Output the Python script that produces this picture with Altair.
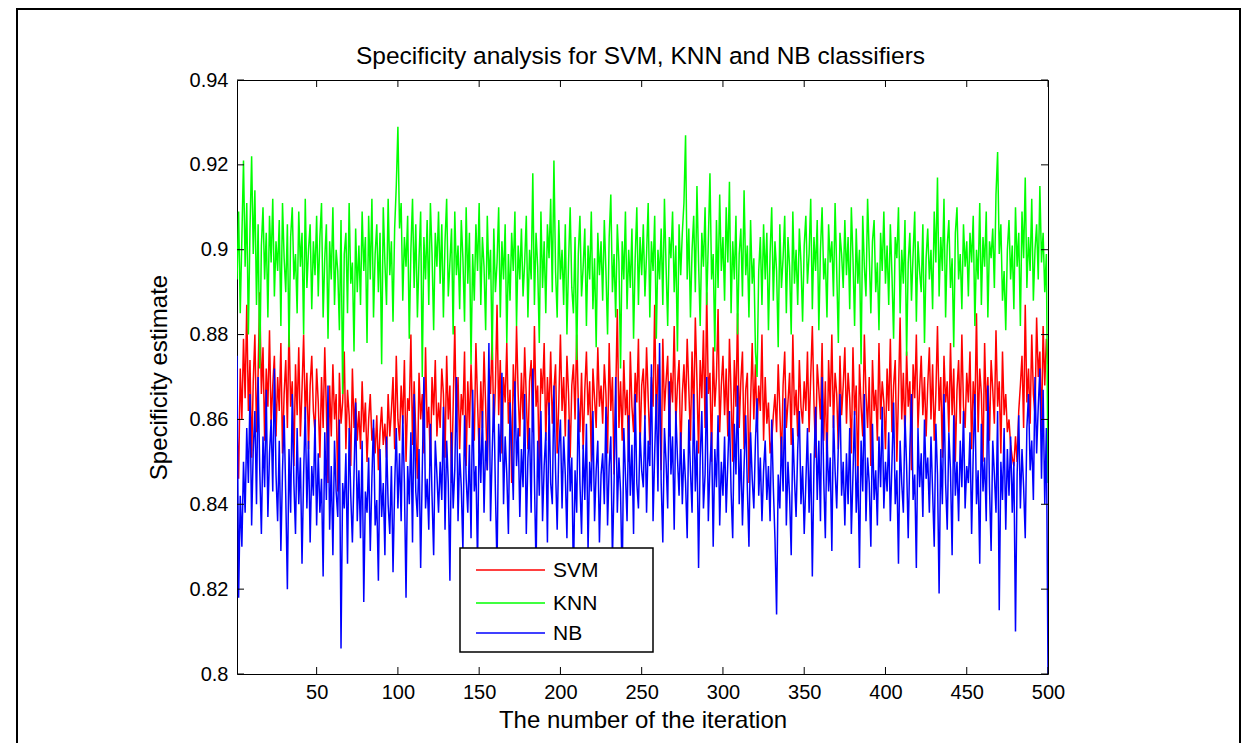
import altair as alt
import pandas as pd

# ---------------- data ----------------
ITER = list(range(1, 501))

SVM = [
    0.858, 0.846, 0.872, 0.860, 0.879, 0.865, 0.887, 0.862, 0.874, 0.851, 0.869, 0.880, 0.857, 0.871, 0.890, 0.866, 0.877, 0.855, 0.872, 0.863, 0.881, 0.859, 0.868, 0.875, 0.856,
    0.870, 0.862, 0.878, 0.852, 0.866, 0.874, 0.858, 0.882, 0.863, 0.869, 0.849, 0.873, 0.861, 0.877, 0.856, 0.867, 0.880, 0.860, 0.871, 0.853, 0.868, 0.875, 0.862, 0.857, 0.872,
    0.864, 0.851, 0.870, 0.858, 0.877, 0.862, 0.845, 0.868, 0.856, 0.873, 0.860, 0.866, 0.843, 0.871, 0.859, 0.864, 0.876, 0.853, 0.867, 0.861, 0.849, 0.872, 0.858, 0.865, 0.855,
    0.862, 0.853, 0.869, 0.857, 0.864, 0.850, 0.860, 0.866, 0.855, 0.858, 0.852, 0.861, 0.848, 0.857, 0.863, 0.854, 0.859, 0.851, 0.866, 0.856, 0.862, 0.870, 0.853, 0.875, 0.860,
    0.855, 0.868, 0.859, 0.874, 0.850, 0.865, 0.862, 0.880, 0.854, 0.869, 0.857, 0.846, 0.871, 0.860, 0.866, 0.852, 0.877, 0.858, 0.863, 0.849, 0.870, 0.861, 0.874, 0.856, 0.864,
    0.858, 0.872, 0.866, 0.851, 0.875, 0.860, 0.868, 0.845, 0.863, 0.882, 0.857, 0.870, 0.853, 0.866, 0.861, 0.876, 0.849, 0.869, 0.858, 0.873, 0.862, 0.855, 0.878, 0.864, 0.852,
    0.869, 0.858, 0.876, 0.863, 0.848, 0.872, 0.866, 0.880, 0.857, 0.868, 0.887, 0.861, 0.874, 0.852, 0.870, 0.864, 0.878, 0.859, 0.867, 0.845, 0.873, 0.862, 0.882, 0.866, 0.856,
    0.871, 0.860, 0.877, 0.865, 0.853, 0.869, 0.874, 0.857, 0.882, 0.863, 0.868, 0.848, 0.872, 0.866, 0.878, 0.855, 0.870, 0.861, 0.876, 0.859, 0.867, 0.873, 0.852, 0.864, 0.880,
    0.862, 0.870, 0.856, 0.875, 0.866, 0.851, 0.868, 0.873, 0.860, 0.880, 0.864, 0.857, 0.871, 0.853, 0.867, 0.876, 0.861, 0.869, 0.850, 0.872, 0.865, 0.858, 0.877, 0.863, 0.868,
    0.859, 0.873, 0.866, 0.852, 0.878, 0.862, 0.870, 0.847, 0.865, 0.886, 0.858, 0.869, 0.855, 0.874, 0.861, 0.867, 0.850, 0.876, 0.863, 0.857, 0.871, 0.864, 0.879, 0.853, 0.868,
    0.872, 0.860, 0.877, 0.865, 0.854, 0.870, 0.863, 0.887, 0.858, 0.873, 0.866, 0.848, 0.879, 0.862, 0.869, 0.875, 0.856, 0.871, 0.864, 0.882, 0.859, 0.868, 0.874, 0.851, 0.866,
    0.873, 0.862, 0.879, 0.867, 0.855, 0.876, 0.860, 0.884, 0.869, 0.852, 0.874, 0.865, 0.881, 0.858, 0.890, 0.866, 0.871, 0.850, 0.877, 0.863, 0.870, 0.886, 0.857, 0.868, 0.875,
    0.861, 0.872, 0.856, 0.879, 0.866, 0.850, 0.874, 0.863, 0.885, 0.858, 0.869, 0.876, 0.853, 0.867, 0.871, 0.845, 0.864, 0.878, 0.860, 0.873, 0.857, 0.868, 0.862, 0.880, 0.855,
    0.870, 0.859, 0.864, 0.852, 0.855, 0.861, 0.866, 0.857, 0.873, 0.862, 0.850, 0.868, 0.876, 0.858, 0.864, 0.871, 0.854, 0.880, 0.861, 0.867, 0.856, 0.874, 0.863, 0.859, 0.869,
    0.862, 0.876, 0.857, 0.870, 0.882, 0.864, 0.851, 0.873, 0.867, 0.860, 0.878, 0.855, 0.869, 0.848, 0.874, 0.863, 0.880, 0.858, 0.871, 0.866, 0.853, 0.875, 0.861, 0.868, 0.877,
    0.859, 0.871, 0.865, 0.852, 0.877, 0.861, 0.868, 0.845, 0.873, 0.863, 0.856, 0.880, 0.866, 0.858, 0.870, 0.849, 0.874, 0.862, 0.867, 0.855, 0.878, 0.860, 0.869, 0.864, 0.853,
    0.872, 0.862, 0.879, 0.857, 0.868, 0.874, 0.850, 0.866, 0.884, 0.860, 0.871, 0.855, 0.876, 0.863, 0.869, 0.848, 0.873, 0.865, 0.880, 0.858, 0.867, 0.875, 0.861, 0.870, 0.856,
    0.868, 0.877, 0.860, 0.873, 0.855, 0.866, 0.882, 0.862, 0.870, 0.851, 0.875, 0.864, 0.869, 0.857, 0.878, 0.861, 0.872, 0.850, 0.867, 0.874, 0.859, 0.880, 0.863, 0.858, 0.871,
    0.864, 0.876, 0.853, 0.869, 0.861, 0.885, 0.857, 0.872, 0.866, 0.850, 0.878, 0.862, 0.870, 0.855, 0.874, 0.867, 0.859, 0.881, 0.863, 0.869, 0.852, 0.876, 0.861, 0.866, 0.857,
    0.860, 0.854, 0.851, 0.849, 0.856, 0.850, 0.862, 0.868, 0.875, 0.858, 0.887, 0.864, 0.872, 0.859, 0.880, 0.866, 0.861, 0.884, 0.870, 0.876, 0.857, 0.882, 0.868, 0.879, 0.873,
]

KNN = [
    0.893, 0.909, 0.885, 0.903, 0.921, 0.896, 0.911, 0.880, 0.905, 0.922, 0.899, 0.914, 0.887, 0.906, 0.872, 0.901, 0.910, 0.893, 0.904, 0.884, 0.908, 0.897, 0.912, 0.889, 0.902,
    0.895, 0.907, 0.882, 0.911, 0.898, 0.890, 0.906, 0.877, 0.903, 0.910, 0.893, 0.899, 0.885, 0.909, 0.896, 0.904, 0.880, 0.912, 0.891, 0.900, 0.906, 0.886, 0.902, 0.894, 0.908,
    0.889, 0.903, 0.911, 0.884, 0.898, 0.906, 0.879, 0.902, 0.893, 0.910, 0.887, 0.900, 0.895, 0.881, 0.907, 0.866, 0.899, 0.904, 0.885, 0.911, 0.892, 0.897, 0.876, 0.905, 0.890,
    0.901, 0.887, 0.909, 0.895, 0.903, 0.878, 0.908, 0.893, 0.912, 0.884, 0.899, 0.906, 0.890, 0.904, 0.873, 0.910, 0.897, 0.887, 0.912, 0.894, 0.902, 0.883, 0.905, 0.915, 0.929,
    0.905, 0.911, 0.888, 0.903, 0.896, 0.908, 0.879, 0.900, 0.912, 0.891, 0.906, 0.884, 0.898, 0.909, 0.870, 0.903, 0.893, 0.907, 0.887, 0.911, 0.899, 0.881, 0.904, 0.896, 0.909,
    0.892, 0.906, 0.884, 0.902, 0.912, 0.889, 0.897, 0.905, 0.880, 0.909, 0.894, 0.901, 0.886, 0.907, 0.898, 0.883, 0.910, 0.892, 0.904, 0.873, 0.899, 0.888, 0.906, 0.895, 0.911,
    0.887, 0.903, 0.896, 0.881, 0.908, 0.893, 0.900, 0.874, 0.905, 0.890, 0.897, 0.910, 0.884, 0.902, 0.893, 0.906, 0.878, 0.899, 0.888, 0.904, 0.895, 0.909, 0.882, 0.901, 0.893,
    0.905, 0.889, 0.897, 0.908, 0.884, 0.900, 0.893, 0.918, 0.887, 0.904, 0.896, 0.878, 0.909, 0.891, 0.902, 0.885, 0.906, 0.898, 0.912, 0.890, 0.921, 0.895, 0.884, 0.907, 0.893,
    0.900, 0.887, 0.906, 0.880, 0.897, 0.910, 0.891, 0.885, 0.903, 0.874, 0.899, 0.908, 0.889, 0.896, 0.905, 0.882, 0.901, 0.893, 0.909, 0.886, 0.898, 0.877, 0.904, 0.894, 0.902,
    0.888, 0.907, 0.895, 0.880, 0.903, 0.913, 0.890, 0.899, 0.884, 0.906, 0.897, 0.872, 0.902, 0.893, 0.909, 0.886, 0.900, 0.891, 0.905, 0.879, 0.898, 0.910, 0.887, 0.903, 0.894,
    0.906, 0.889, 0.899, 0.911, 0.884, 0.902, 0.895, 0.908, 0.879, 0.900, 0.893, 0.905, 0.887, 0.912, 0.896, 0.882, 0.903, 0.898, 0.909, 0.890, 0.901, 0.876, 0.906, 0.894, 0.904,
    0.911, 0.927, 0.893, 0.905, 0.884, 0.900, 0.908, 0.890, 0.915, 0.897, 0.882, 0.904, 0.896, 0.910, 0.887, 0.902, 0.918, 0.893, 0.899, 0.876, 0.907, 0.891, 0.913, 0.895, 0.903,
    0.888, 0.910, 0.897, 0.916, 0.885, 0.902, 0.893, 0.908, 0.880, 0.899, 0.905, 0.889, 0.914, 0.894, 0.901, 0.884, 0.907, 0.892, 0.898, 0.876, 0.870, 0.895, 0.903, 0.887, 0.906,
    0.893, 0.904, 0.881, 0.899, 0.910, 0.888, 0.902, 0.895, 0.877, 0.906, 0.891, 0.898, 0.908, 0.885, 0.903, 0.896, 0.880, 0.909, 0.892, 0.900, 0.887, 0.905, 0.897, 0.883, 0.901,
    0.908, 0.892, 0.899, 0.912, 0.886, 0.903, 0.895, 0.907, 0.881, 0.900, 0.910, 0.893, 0.898, 0.884, 0.906, 0.897, 0.902, 0.889, 0.911, 0.895, 0.878, 0.904, 0.899, 0.891, 0.907,
    0.894, 0.903, 0.886, 0.910, 0.898, 0.882, 0.905, 0.892, 0.900, 0.873, 0.908, 0.896, 0.889, 0.912, 0.899, 0.885, 0.902, 0.907, 0.890, 0.897, 0.881, 0.904, 0.895, 0.909, 0.892,
    0.901, 0.887, 0.906, 0.894, 0.879, 0.903, 0.898, 0.910, 0.885, 0.900, 0.892, 0.907, 0.875, 0.897, 0.904, 0.888, 0.899, 0.909, 0.883, 0.902, 0.895, 0.890, 0.906, 0.878, 0.898,
    0.905, 0.893, 0.900, 0.886, 0.909, 0.897, 0.917, 0.889, 0.903, 0.895, 0.912, 0.884, 0.901, 0.907, 0.891, 0.898, 0.877, 0.904, 0.910, 0.893, 0.899, 0.886, 0.906, 0.896, 0.902,
    0.889, 0.904, 0.897, 0.908, 0.882, 0.900, 0.893, 0.911, 0.887, 0.903, 0.896, 0.909, 0.884, 0.902, 0.898, 0.905, 0.891, 0.913, 0.923, 0.899, 0.906, 0.888, 0.895, 0.881, 0.900,
    0.907, 0.893, 0.901, 0.886, 0.910, 0.896, 0.904, 0.882, 0.909, 0.898, 0.917, 0.891, 0.903, 0.895, 0.912, 0.888, 0.900, 0.906, 0.893, 0.915, 0.897, 0.904, 0.890, 0.899, 0.845,
]

NB = [
    0.875, 0.818, 0.842, 0.830, 0.850, 0.838, 0.858, 0.845, 0.866, 0.835, 0.853, 0.862, 0.840, 0.870, 0.848, 0.833, 0.856, 0.844, 0.867, 0.837, 0.852, 0.860, 0.843, 0.872, 0.847,
    0.836, 0.855, 0.829, 0.848, 0.861, 0.842, 0.820, 0.853, 0.838, 0.866, 0.845, 0.833, 0.858, 0.840, 0.851, 0.826, 0.847, 0.863, 0.839, 0.855, 0.831, 0.849, 0.842, 0.860, 0.835,
    0.852, 0.838, 0.846, 0.823, 0.857, 0.841, 0.868, 0.834, 0.849, 0.828, 0.855, 0.843, 0.837, 0.860, 0.806, 0.845, 0.839, 0.852, 0.826, 0.858, 0.842, 0.831, 0.847, 0.864, 0.836,
    0.848, 0.832, 0.855, 0.817, 0.843, 0.838, 0.851, 0.829, 0.846, 0.860, 0.835, 0.841, 0.822, 0.853, 0.837, 0.845, 0.828, 0.856, 0.840, 0.833, 0.849, 0.824, 0.844, 0.858, 0.839,
    0.852, 0.836, 0.861, 0.845, 0.818, 0.849, 0.840, 0.857, 0.831, 0.866, 0.843, 0.837, 0.853, 0.825, 0.848, 0.870, 0.839, 0.846, 0.834, 0.859, 0.842, 0.828, 0.855, 0.847, 0.838,
    0.850, 0.841, 0.863, 0.834, 0.855, 0.845, 0.822, 0.857, 0.839, 0.848, 0.870, 0.836, 0.852, 0.844, 0.829, 0.861, 0.846, 0.838, 0.854, 0.832, 0.867, 0.843, 0.849, 0.826, 0.858,
    0.845, 0.862, 0.838, 0.855, 0.848, 0.878, 0.836, 0.852, 0.866, 0.843, 0.825, 0.859, 0.850, 0.871, 0.840, 0.856, 0.847, 0.833, 0.864, 0.853, 0.841, 0.869, 0.849, 0.858, 0.837,
    0.853, 0.844, 0.866, 0.833, 0.851, 0.858, 0.838, 0.872, 0.846, 0.825, 0.855, 0.842, 0.862, 0.836, 0.849, 0.857, 0.831, 0.864, 0.845, 0.840, 0.868, 0.848, 0.834, 0.853, 0.860,
    0.839, 0.856, 0.847, 0.832, 0.860, 0.843, 0.851, 0.822, 0.848, 0.838, 0.865, 0.845, 0.833, 0.854, 0.841, 0.859, 0.829, 0.850, 0.843, 0.862, 0.836, 0.848, 0.855, 0.831, 0.847,
    0.852, 0.840, 0.863, 0.835, 0.849, 0.856, 0.827, 0.845, 0.870, 0.838, 0.851, 0.843, 0.821, 0.858, 0.847, 0.836, 0.861, 0.842, 0.854, 0.833, 0.866, 0.845, 0.839, 0.857, 0.848,
    0.844, 0.861, 0.838, 0.855, 0.849, 0.873, 0.836, 0.852, 0.866, 0.843, 0.878, 0.845, 0.831, 0.858, 0.850, 0.839, 0.869, 0.847, 0.856, 0.834, 0.862, 0.851, 0.842, 0.857, 0.840,
    0.853, 0.845, 0.832, 0.860, 0.848, 0.838, 0.866, 0.843, 0.855, 0.825, 0.851, 0.862, 0.839, 0.847, 0.870, 0.836, 0.849, 0.857, 0.830, 0.853, 0.844, 0.861, 0.835, 0.850, 0.842,
    0.856, 0.838, 0.850, 0.862, 0.843, 0.832, 0.859, 0.847, 0.868, 0.840, 0.853, 0.835, 0.849, 0.861, 0.844, 0.830, 0.857, 0.846, 0.839, 0.855, 0.865, 0.842, 0.851, 0.836, 0.848,
    0.855, 0.841, 0.849, 0.836, 0.860, 0.844, 0.832, 0.814, 0.847, 0.839, 0.856, 0.843, 0.865, 0.835, 0.850, 0.842, 0.828, 0.858, 0.846, 0.837, 0.853, 0.862, 0.840, 0.849, 0.833,
    0.845, 0.858, 0.838, 0.852, 0.823, 0.849, 0.863, 0.841, 0.855, 0.836, 0.870, 0.846, 0.832, 0.857, 0.843, 0.851, 0.829, 0.861, 0.848, 0.839, 0.854, 0.866, 0.842, 0.850, 0.835,
    0.852, 0.840, 0.858, 0.833, 0.847, 0.862, 0.838, 0.849, 0.825, 0.855, 0.843, 0.866, 0.836, 0.851, 0.845, 0.830, 0.859, 0.841, 0.848, 0.835, 0.856, 0.844, 0.863, 0.839, 0.850,
    0.843, 0.857, 0.836, 0.850, 0.864, 0.840, 0.848, 0.826, 0.855, 0.845, 0.838, 0.861, 0.849, 0.832, 0.853, 0.866, 0.841, 0.847, 0.825, 0.858, 0.844, 0.852, 0.837, 0.860, 0.846,
    0.851, 0.838, 0.856, 0.843, 0.830, 0.859, 0.847, 0.819, 0.853, 0.840, 0.866, 0.845, 0.834, 0.857, 0.848, 0.828, 0.861, 0.842, 0.850, 0.836, 0.855, 0.844, 0.862, 0.839, 0.849,
    0.845, 0.857, 0.833, 0.852, 0.866, 0.840, 0.848, 0.826, 0.859, 0.843, 0.851, 0.836, 0.868, 0.844, 0.829, 0.855, 0.847, 0.838, 0.862, 0.815, 0.850, 0.841, 0.858, 0.834, 0.853,
    0.842, 0.856, 0.838, 0.850, 0.810, 0.847, 0.861, 0.839, 0.853, 0.844, 0.832, 0.858, 0.866, 0.848, 0.855, 0.841, 0.870, 0.852, 0.863, 0.872, 0.846, 0.867, 0.840, 0.858, 0.800,
]

SERIES = ["SVM", "KNN", "NB"]
COLORS = ["#ff0000", "#00ff00", "#0000ff"]
X_TICKS = [50, 100, 150, 200, 250, 300, 350, 400, 450, 500]
Y_TICKS = [0.80, 0.82, 0.84, 0.86, 0.88, 0.90, 0.92, 0.94]
TITLE = "Specificity analysis for SVM, KNN and NB classifiers"
X_TITLE = "The number of the iteration"
Y_TITLE = "Specificity estimate"

# ---------------- layout / style ----------------
W, H = 811, 594
FONT = "Liberation Sans"
TICK_LEN = 7

wide = pd.DataFrame({"iteration": ITER, "SVM": SVM, "KNN": KNN, "NB": NB})
long = wide.melt("iteration", var_name="classifier", value_name="specificity")

xscale = alt.Scale(domain=[1, 500], nice=False, zero=False)
yscale = alt.Scale(domain=[0.80, 0.94], nice=False, zero=False)

X_AXIS = alt.Axis(values=X_TICKS, title=X_TITLE, labelFlush=False, labelOverlap=False,
                  labelPadding=8, titlePadding=6)
Y_AXIS = alt.Axis(values=Y_TICKS, format="~g", title=Y_TITLE, labelOverlap=False,
                  labelPadding=9, titlePadding=18)

color = alt.Color("classifier:N", scale=alt.Scale(domain=SERIES, range=COLORS), legend=None)

one = alt.Data(values=[{"f": 1}])
layers = []

# outer figure frame (the reference is a framed figure)
layers.append(
    alt.Chart(one).mark_rect(fill="white", fillOpacity=0, stroke="black", strokeWidth=2)
    .encode(x=alt.value(-220), x2=alt.value(1003), y=alt.value(-71), y2=alt.value(720))
)

# chart title, drawn as text so the outer frame does not push it away
layers.append(
    alt.Chart(alt.Data(values=[{"t": TITLE}])).mark_text(
        align="center", baseline="alphabetic", font=FONT, fontSize=24.5, color="black")
    .encode(text="t:N", x=alt.value(W / 2 - 2), y=alt.value(-16))
)

for name in SERIES:
    layers.append(
        alt.Chart(long).transform_filter(alt.datum.classifier == name)
        .mark_line(strokeWidth=1.5, clip=True)
        .encode(
            x=alt.X("iteration:Q", scale=xscale, axis=X_AXIS),
            y=alt.Y("specificity:Q", scale=yscale, axis=Y_AXIS),
            color=color,
        )
    )

xt = alt.Chart(pd.DataFrame({"t": X_TICKS}))
yt = alt.Chart(pd.DataFrame({"t": Y_TICKS}))
layers.append(xt.mark_rule(color="black").encode(
    x=alt.X("t:Q", scale=xscale, axis=X_AXIS), y=alt.value(H), y2=alt.value(H - TICK_LEN)))
layers.append(xt.mark_rule(color="black").encode(
    x=alt.X("t:Q", scale=xscale, axis=X_AXIS), y=alt.value(0), y2=alt.value(TICK_LEN)))
layers.append(yt.mark_rule(color="black").encode(
    y=alt.Y("t:Q", scale=yscale, axis=Y_AXIS), x=alt.value(0), x2=alt.value(TICK_LEN)))
layers.append(yt.mark_rule(color="black").encode(
    y=alt.Y("t:Q", scale=yscale, axis=Y_AXIS), x=alt.value(W), x2=alt.value(W - TICK_LEN)))

# legend box (MATLAB style, inside the axes)
LX0, LX1, LY0, LY1 = 223, 416, 468, 572
layers.append(
    alt.Chart(one).mark_rect(fill="white", stroke="black", strokeWidth=1.5)
    .encode(x=alt.value(LX0), x2=alt.value(LX1), y=alt.value(LY0), y2=alt.value(LY1))
)
ROW_Y = [490, 523, 553]
for name, col, ry in zip(SERIES, COLORS, ROW_Y):
    d = alt.Data(values=[{"label": name}])
    layers.append(alt.Chart(d).mark_rule(color=col, strokeWidth=1.5)
                  .encode(x=alt.value(239), x2=alt.value(308), y=alt.value(ry)))
    layers.append(alt.Chart(d).mark_text(align="left", baseline="middle", font=FONT, fontSize=21, color="black")
                  .encode(text="label:N", x=alt.value(316), y=alt.value(ry + 1)))

chart = (
    alt.layer(*layers)
    .properties(
        width=W, height=H,
        padding={"left": 229, "top": 72, "right": 193, "bottom": 69},
        autosize=alt.AutoSizeParams(type="none"),
    )
    .configure(background="white")
    .configure_view(stroke="black", strokeWidth=1)
    .configure_axis(
        labelFont=FONT, labelFontSize=20, labelColor="black",
        titleFont=FONT, titleFontSize=24, titleFontWeight="normal", titleColor="black",
        ticks=False, tickSize=0, domain=False, grid=False,
    )
)

chart.save("out.html", embed_options={"renderer": "svg", "actions": False})
